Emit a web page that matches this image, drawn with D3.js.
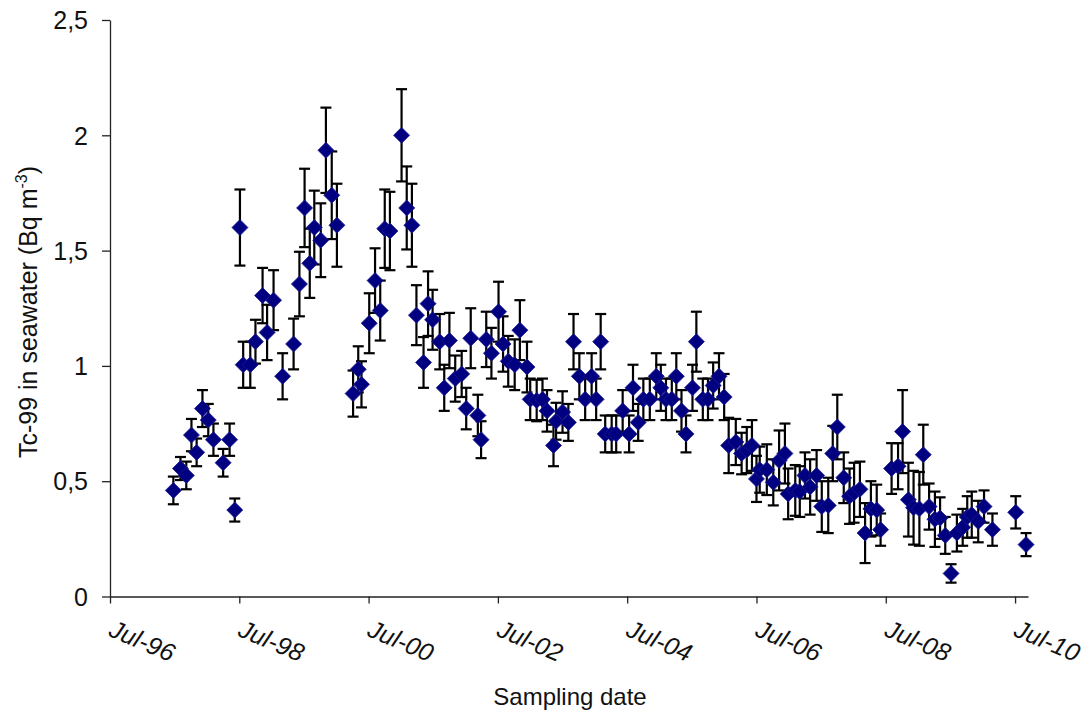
<!DOCTYPE html>
<html>
<head>
<meta charset="utf-8">
<script src="https://cdn.jsdelivr.net/npm/d3@7"></script>
<style>
  html, body { margin: 0; padding: 0; background: #fff; }
  svg { display: block; font-family: "Liberation Sans", Arial, sans-serif; }
</style>
</head>
<body>
<svg id="chart" width="1091" height="719"></svg>
<script>
// Sampling date as decimal year
const dates = [
  1997.48, 1997.59, 1997.68, 1997.76, 1997.84, 1997.93, 1998.02, 1998.10, 1998.25, 1998.35,
  1998.43, 1998.51, 1998.56, 1998.67, 1998.75, 1998.86, 1998.93, 1999.03, 1999.17, 1999.34,
  1999.43, 1999.51, 1999.59, 1999.66, 1999.76, 1999.84, 1999.93, 2000.01, 2000.26, 2000.34,
  2000.39, 2000.51, 2000.60, 2000.68, 2000.75, 2000.83, 2001.01, 2001.09, 2001.17, 2001.24,
  2001.35, 2001.42, 2001.49, 2001.60, 2001.67, 2001.75, 2001.84, 2001.94, 2002.01, 2002.08,
  2002.19, 2002.24, 2002.32, 2002.40, 2002.51, 2002.58, 2002.66, 2002.76, 2002.84, 2002.95,
  2003.00, 2003.10, 2003.19, 2003.26, 2003.36, 2003.40, 2003.50, 2003.59, 2003.67, 2003.76,
  2003.85, 2003.95, 2004.02, 2004.09, 2004.16, 2004.26, 2004.33, 2004.43, 2004.53, 2004.59,
  2004.67, 2004.75, 2004.85, 2004.95, 2005.02, 2005.10, 2005.19, 2005.26, 2005.34, 2005.41,
  2005.51, 2005.57, 2005.67, 2005.75, 2005.83, 2005.92, 2006.00, 2006.07, 2006.18, 2006.27,
  2006.35, 2006.43, 2006.50, 2006.55, 2006.66, 2006.76, 2006.85, 2006.94, 2006.99, 2007.10,
  2007.17, 2007.25, 2007.33, 2007.43, 2007.51, 2007.61, 2007.68, 2007.75, 2007.85, 2007.94,
  2008.01, 2008.10, 2008.18, 2008.27, 2008.36, 2008.42, 2008.59, 2008.69, 2008.76, 2008.85,
  2008.93, 2009.02, 2009.08, 2009.17, 2009.26, 2009.34, 2009.42, 2009.51, 2009.60, 2009.69,
  2009.76, 2009.83, 2009.93, 2010.02, 2010.15, 2010.51, 2010.67
];
// Tc-99 activity (Bq m-3)
const values = [
  0.46, 0.555, 0.525, 0.70, 0.625, 0.815, 0.765, 0.68, 0.58, 0.68,
  0.375, 1.60, 1.005, 1.005, 1.105, 1.305, 1.145, 1.285, 0.955, 1.095,
  1.355, 1.685, 1.445, 1.60, 1.545, 1.935, 1.74, 1.61, 0.88, 0.985,
  0.92, 1.185, 1.37, 1.24, 1.595, 1.585, 2.00, 1.685, 1.61, 1.22,
  1.015, 1.27, 1.20, 1.105, 0.905, 1.11, 0.945, 0.965, 0.815, 1.12,
  0.785, 0.68, 1.115, 1.055, 1.235, 1.095, 1.02, 1.005, 1.155, 0.995,
  0.855, 0.85, 0.855, 0.805, 0.655, 0.76, 0.80, 0.755, 1.105, 0.955,
  0.855, 0.955, 0.855, 1.105, 0.705, 0.705, 0.705, 0.805, 0.705, 0.905,
  0.755, 0.855, 0.855, 0.955, 0.905, 0.855, 0.855, 0.955, 0.805, 0.705,
  0.905, 1.105, 0.855, 0.855, 0.915, 0.955, 0.865, 0.655, 0.67, 0.62,
  0.635, 0.655, 0.51, 0.55, 0.55, 0.495, 0.59, 0.62, 0.445, 0.46,
  0.455, 0.525, 0.475, 0.525, 0.39, 0.395, 0.62, 0.735, 0.515, 0.435,
  0.45, 0.465, 0.275, 0.38, 0.375, 0.29, 0.555, 0.565, 0.715, 0.42,
  0.385, 0.38, 0.615, 0.39, 0.335, 0.34, 0.265, 0.10, 0.275, 0.30,
  0.345, 0.355, 0.325, 0.39, 0.29, 0.365, 0.225
];
// Uncertainty (+/-)
const errors = [
  0.06, 0.05, 0.06, 0.07, 0.06, 0.08, 0.07, 0.07, 0.06, 0.07,
  0.05, 0.165, 0.10, 0.10, 0.095, 0.12, 0.12, 0.13, 0.10, 0.11,
  0.14, 0.17, 0.15, 0.16, 0.16, 0.185, 0.19, 0.18, 0.10, 0.10,
  0.10, 0.13, 0.14, 0.13, 0.17, 0.17, 0.20, 0.18, 0.18, 0.13,
  0.11, 0.14, 0.13, 0.12, 0.10, 0.12, 0.10, 0.10, 0.09, 0.13,
  0.09, 0.08, 0.12, 0.11, 0.13, 0.12, 0.11, 0.11, 0.13, 0.11,
  0.09, 0.09, 0.09, 0.09, 0.09, 0.08, 0.09, 0.08, 0.12, 0.10,
  0.09, 0.10, 0.09, 0.12, 0.08, 0.08, 0.08, 0.09, 0.08, 0.10,
  0.08, 0.09, 0.09, 0.10, 0.10, 0.09, 0.09, 0.10, 0.09, 0.08,
  0.10, 0.13, 0.09, 0.09, 0.10, 0.10, 0.10, 0.12, 0.10, 0.09,
  0.10, 0.11, 0.10, 0.10, 0.11, 0.10, 0.13, 0.13, 0.11, 0.11,
  0.11, 0.10, 0.12, 0.11, 0.11, 0.12, 0.12, 0.14, 0.11, 0.12,
  0.13, 0.12, 0.13, 0.12, 0.11, 0.07, 0.11, 0.10, 0.18, 0.16,
  0.16, 0.16, 0.13, 0.10, 0.12, 0.09, 0.08, 0.04, 0.08, 0.08,
  0.09, 0.10, 0.09, 0.07, 0.07, 0.07, 0.05
];
const xTickValues = [1996.5, 1998.5, 2000.5, 2002.5, 2004.5, 2006.5, 2008.5, 2010.5];
const xTickLabels = ["Jul-96", "Jul-98", "Jul-00", "Jul-02", "Jul-04", "Jul-06", "Jul-08", "Jul-10"];
const yTickValues = [0, 0.5, 1, 1.5, 2, 2.5];
const yTickLabels = ["0", "0,5", "1", "1,5", "2", "2,5"];

const data = dates.map((d, i) => ({ t: d, v: values[i], e: errors[i] }));

const svg = d3.select("#chart");
const plotL = 110, plotR = 1028, plotT = 20, plotB = 596.5;

const x = d3.scaleLinear().domain([1996.5, 2010.7]).range([plotL, plotR]);
const y = d3.scaleLinear().domain([0, 2.5]).range([plotB, plotT]);

// Axes
const axisColor = "#222";
const xAxis = svg.append("g")
  .attr("transform", `translate(0,${plotB})`)
  .call(d3.axisBottom(x).tickValues(xTickValues).tickSize(7)
    .tickFormat((d, i) => xTickLabels[i]).tickSizeOuter(0));
xAxis.select(".domain").attr("stroke", axisColor).attr("stroke-width", 1.3);
xAxis.selectAll(".tick line").attr("stroke", axisColor).attr("stroke-width", 1.3);
xAxis.selectAll(".tick text")
  .attr("font-size", 25)
  .attr("font-style", "italic")
  .attr("fill", "#111")
  .attr("text-anchor", "start")
  .attr("dy", null)
  .attr("y", null)
  .attr("transform", "translate(-3,39) rotate(23)");

const yAxis = svg.append("g")
  .attr("transform", `translate(${plotL},0)`)
  .call(d3.axisLeft(y).tickValues(yTickValues).tickSize(8)
    .tickFormat((d, i) => yTickLabels[i]).tickSizeOuter(0));
yAxis.select(".domain").attr("stroke", axisColor).attr("stroke-width", 1.3);
yAxis.selectAll(".tick text")
  .attr("font-size", 25)
  .attr("fill", "#111")
  .attr("x", -22)
  .attr("dy", "0.35em");
yAxis.selectAll(".tick line").attr("stroke", axisColor).attr("stroke-width", 1.3);

// Axis titles
svg.append("text")
  .attr("x", 570).attr("y", 705)
  .attr("text-anchor", "middle")
  .attr("font-size", 24)
  .attr("fill", "#111")
  .text("Sampling date");

const yt = svg.append("text")
  .attr("transform", "translate(37,312) rotate(-90)")
  .attr("text-anchor", "middle")
  .attr("font-size", 25)
  .attr("fill", "#111");
yt.append("tspan").text("Tc-99 in seawater (Bq m");
yt.append("tspan").attr("font-size", 16).attr("dy", -10).text("-3");
yt.append("tspan").attr("dy", 10).text(")");

// Error bars
const eb = svg.append("g").attr("stroke", "#000").attr("stroke-width", 2.2).attr("fill", "none");
const cap = 5.5;
data.forEach(d => {
  const cx = x(d.t);
  const y1 = y(d.v + d.e), y0 = y(Math.max(0, d.v - d.e));
  eb.append("line").attr("x1", cx).attr("x2", cx).attr("y1", y1).attr("y2", y0);
  eb.append("line").attr("x1", cx - cap).attr("x2", cx + cap).attr("y1", y1).attr("y2", y1);
  eb.append("line").attr("x1", cx - cap).attr("x2", cx + cap).attr("y1", y0).attr("y2", y0);
});

// Diamond markers
const r = 8;
svg.append("g").selectAll("path").data(data).join("path")
  .attr("d", `M0,${-r}L${r},0L0,${r}L${-r},0Z`)
  .attr("transform", d => `translate(${x(d.t)},${y(d.v)})`)
  .attr("fill", "#000080")
  .attr("stroke", "#1a1a8c")
  .attr("stroke-width", 0.8);
</script>
</body>
</html>
